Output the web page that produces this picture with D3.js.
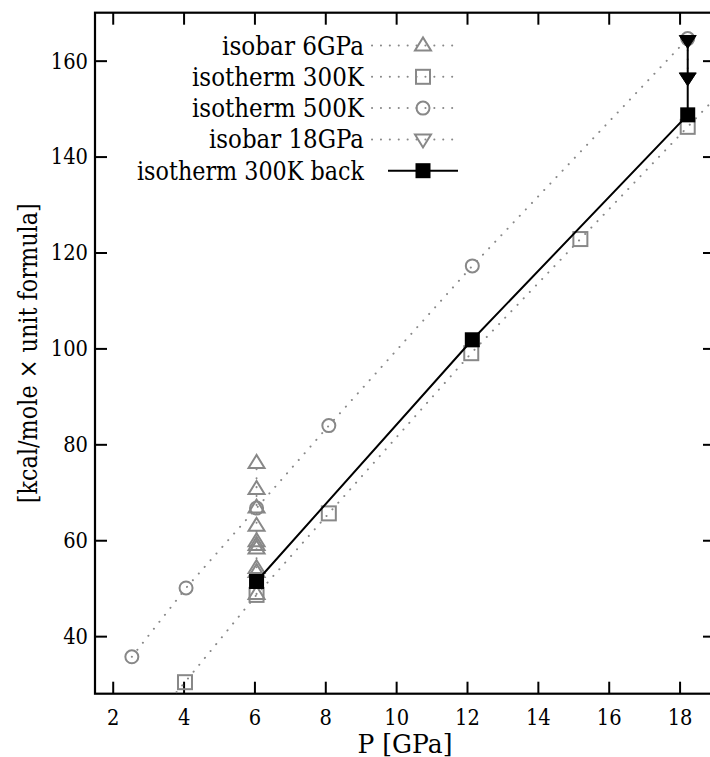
<!DOCTYPE html>
<html><head><meta charset="utf-8">
<script src="https://cdn.jsdelivr.net/npm/d3@7"></script>
<style>body{margin:0;background:#fff}svg{display:block}</style>
</head><body><svg id="c" width="710" height="757"></svg>
<script>
// ---- data ----
const xTicks = [2,4,6,8,10,12,14,16,18];
const yTicks = [40,60,80,100,120,140,160];
const seriesNames = ["isobar 6GPa","isotherm 300K","isotherm 500K","isobar 18GPa","isotherm 300K back"];
const isobar6P = [6.06,6.06,6.06,6.06,6.06,6.06,6.06,6.06,6.06,6.06];
const isobar6E = [48.8,53.4,54.2,58.3,59.0,59.8,63.0,66.8,70.7,76.1];
const iso300P = [2.5,4.04,6.06,8.1,12.12,15.2,18.23,21.0];
const iso300E = [17.0,30.4,48.6,65.6,99.0,122.8,146.2,167.5];
const iso500P = [2.54,4.07,6.06,8.1,12.15,18.23];
const iso500E = [35.7,50.05,66.7,83.9,117.2,164.6];
const isobar18P = [18.23,18.23];
const isobar18E = [164.0,156.2];
const backP = [18.23,18.23,18.23,12.15,6.06];
const backE = [164.0,156.2,148.7,101.8,51.4];

const FF = 'DejaVu Serif';
const svg = d3.select("#c");
const L=95,R=715,T=12.7,B=693.7;
const x = d3.scaleLinear().domain([1.5,19]).range([L,R]);
const y = d3.scaleLinear().domain([28,170]).range([B,T]);
const gray="#888";

svg.append("defs").append("clipPath").attr("id","clip").append("rect")
  .attr("x",L).attr("y",T).attr("width",R-L).attr("height",B-T);

const tl=12, digitW=12.4;
function styleTicks(g){
  g.attr("font-family",FF);
  g.select(".domain").remove();
  g.selectAll("text").attr("font-size",23).attr("lengthAdjust","spacingAndGlyphs")
    .attr("textLength",function(){return this.textContent.length*digitW;});
  g.selectAll("line").attr("stroke-width",2);
}
svg.append("g").attr("transform",`translate(0,${B})`)
  .call(d3.axisBottom(x).tickValues(xTicks).tickSize(-tl).tickPadding(15).tickFormat(d3.format("d")))
  .call(styleTicks);
svg.append("g").attr("transform",`translate(0,${T})`)
  .call(d3.axisTop(x).tickValues(xTicks).tickSize(-tl).tickFormat(""))
  .call(g=>{g.select(".domain").remove();g.selectAll("line").attr("stroke-width",2);});
svg.append("g").attr("transform",`translate(${L},0)`)
  .call(d3.axisLeft(y).tickValues(yTicks).tickSize(-tl).tickPadding(7).tickFormat(d3.format("d")))
  .call(styleTicks);
svg.append("g").attr("transform",`translate(${R},0)`)
  .call(d3.axisRight(y).tickValues(yTicks).tickSize(-tl).tickFormat(""))
  .call(g=>{g.select(".domain").remove();g.selectAll("line").attr("stroke-width",2);});
svg.append("rect").attr("x",L).attr("y",T).attr("width",R-L).attr("height",B-T)
  .attr("fill","none").attr("stroke","#000").attr("stroke-width",2.2);

svg.append("text").attr("x",(L+R)/2).attr("y",753).attr("text-anchor","middle").attr("font-family",FF)
  .attr("font-size",26).attr("textLength",95).attr("lengthAdjust","spacingAndGlyphs").text("P [GPa]");
svg.append("text").attr("transform",`translate(37,${(T+B)/2}) rotate(-90)`).attr("text-anchor","middle").attr("font-family",FF)
  .attr("font-size",26).attr("textLength",300).attr("lengthAdjust","spacingAndGlyphs").text("[kcal/mole × unit formula]");

const S=7;
function marker(g,type,cx,cy){
  if(type==="tri"){
    g.append("path").attr("d",`M${cx-8},${cy+5}L${cx+8},${cy+5}L${cx},${cy-8}Z`).attr("fill","none").attr("stroke",gray).attr("stroke-width",2);
  } else if(type==="sq"){
    g.append("rect").attr("x",cx-S).attr("y",cy-S).attr("width",2*S).attr("height",2*S).attr("fill","none").attr("stroke",gray).attr("stroke-width",2);
  } else if(type==="circ"){
    g.append("circle").attr("cx",cx).attr("cy",cy).attr("r",6.5).attr("fill","none").attr("stroke",gray).attr("stroke-width",2);
  } else if(type==="dtri"){
    g.append("path").attr("d",`M${cx-8},${cy-5}L${cx+8},${cy-5}L${cx},${cy+8}Z`).attr("fill","none").attr("stroke",gray).attr("stroke-width",2);
  } else if(type==="dtriF"){
    g.append("path").attr("d",`M${cx-8.5},${cy-6}L${cx+8.5},${cy-6}L${cx},${cy+7}Z`).attr("fill","#000").attr("stroke","#000").attr("stroke-width",1);
  } else if(type==="sqF"){
    g.append("rect").attr("x",cx-7.5).attr("y",cy-7.5).attr("width",15).attr("height",15).attr("fill","#000");
  }
}
const line = d3.line().x(d=>x(d[0])).y(d=>y(d[1]));
const plot = svg.append("g").attr("clip-path","url(#clip)");
function dotted(P,E){
  plot.append("path").attr("d",line(P.map((p,i)=>[p,E[i]]))).attr("fill","none")
    .attr("stroke",gray).attr("stroke-width",2).attr("stroke-linecap","round").attr("stroke-dasharray","0.1,8.8");
}
const gs = [
  {P:isobar6P,E:isobar6E,m:"tri"},
  {P:iso300P,E:iso300E,m:"sq"},
  {P:iso500P,E:iso500E,m:"circ"},
];
gs.forEach(s=>{dotted(s.P,s.E);});
gs.forEach(s=>{const g=plot.append("g");s.P.forEach((p,i)=>marker(g,s.m,x(p),y(s.E[i])));});
dotted(isobar18P,isobar18E);
plot.append("path").attr("d",line(backP.map((p,i)=>[p,backE[i]]))).attr("fill","none").attr("stroke","#000").attr("stroke-width",2);
const gb=plot.append("g");
isobar18P.forEach((p,i)=>marker(gb,"dtriF",x(p),y(isobar18E[i])));
backP.slice(2).forEach((p,i)=>marker(gb,"sqF",x(p),y(backE[i+2])));

const legTypes=["tri","sq","circ","dtri","sqF"];
const legWidths=[142,172,172,155,227];
const lg=svg.append("g").attr("font-family",FF);
seriesNames.forEach((n,i)=>{
  const yy=45.5+i*31.3;
  lg.append("text").attr("x",364-legWidths[i]).attr("y",yy+9).attr("font-size",26)
    .attr("textLength",legWidths[i]).attr("lengthAdjust","spacingAndGlyphs").text(n);
  if(i<4){
    lg.append("line").attr("x1",372).attr("x2",458).attr("y1",yy).attr("y2",yy).attr("stroke",gray).attr("stroke-width",2).attr("stroke-linecap","round").attr("stroke-dasharray","0.1,8.8");
  } else {
    lg.append("line").attr("x1",388).attr("x2",458).attr("y1",yy).attr("y2",yy).attr("stroke","#000").attr("stroke-width",2);
  }
  marker(lg,legTypes[i],423,yy);
});
</script></body></html>
